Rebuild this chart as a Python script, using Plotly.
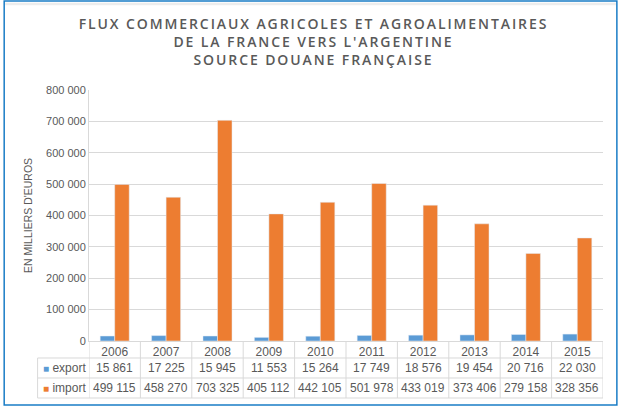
import plotly.graph_objects as go

years = [2006, 2007, 2008, 2009, 2010, 2011, 2012, 2013, 2014, 2015]
export = [15861, 17225, 15945, 11553, 15264, 17749, 18576, 19454, 20716, 22030]
imports = [499115, 458270, 703325, 405112, 442105, 501978, 433019, 373406, 279158, 328356]

BLUE = "#5B9BD5"
ORANGE = "#ED7D31"
GREY_TXT = "#595959"
GRID = "#D9D9D9"
FONT = "Liberation Sans"


def fmt(v):
    return f"{v:,}".replace(",", " ")


fig = go.Figure()
fig.add_trace(go.Bar(x=years, y=export, name="export", marker_color=BLUE))
fig.add_trace(go.Bar(x=years, y=imports, name="import", marker_color=ORANGE))

# data table under the plot (paper y below 0)
row_y = {"year_bot": -0.0677, "exp_bot": -0.1474, "imp_bot": -0.2271}
exp_y = -0.1076
imp_y = -0.187
shapes = []
line = dict(color=GRID, width=1)
for b in [y - 0.5 for y in years] + [years[-1] + 0.5]:
    shapes.append(dict(type="line", xref="x", yref="paper", x0=b, x1=b,
                       y0=0, y1=row_y["imp_bot"], line=line))
for yb in row_y.values():
    shapes.append(dict(type="line", xref="paper", yref="paper", x0=-0.1, x1=1,
                       y0=yb, y1=yb, line=line))
shapes.append(dict(type="line", xref="paper", yref="paper", x0=-0.1, x1=-0.1,
                   y0=row_y["year_bot"], y1=row_y["imp_bot"], line=line))
# outer frame
shapes.append(dict(type="rect", xref="paper", yref="paper", x0=-0.165, x1=1.027,
                   y0=-0.255, y1=1.355, line=dict(color="#1A7DC6", width=1.5)))
shapes.append(dict(type="line", xref="paper", yref="paper", x0=-0.163, x1=1.025,
                   y0=1.343, y1=1.343, line=dict(color="#EDEDED", width=2.5)))

annotations = []
tfont = dict(family=FONT, size=12, color=GREY_TXT)
for yr, e, i in zip(years, export, imports):
    annotations.append(dict(x=yr, y=exp_y, xref="x", yref="paper", text=fmt(e),
                            yanchor="middle", showarrow=False, font=tfont))
    annotations.append(dict(x=yr, y=imp_y, xref="x", yref="paper", text=fmt(i),
                            yanchor="middle", showarrow=False, font=tfont))
for label, color, yy in [("export", BLUE, exp_y), ("import", ORANGE, imp_y)]:
    annotations.append(dict(x=-0.094, y=yy, xref="paper", yref="paper",
                            xanchor="left", yanchor="middle",
                            text=f"<span style='color:{color};font-size:10px'>■</span> {label}",
                            showarrow=False, font=tfont))

title_lines = [
    "FLUX COMMERCIAUX AGRICOLES ET AGROALIMENTAIRES",
    "DE LA FRANCE VERS L'ARGENTINE",
    "SOURCE DOUANE FRANÇAISE",
]
title_text = "<br>".join(
    f"<span style='letter-spacing:1.9px'>{t}</span>" for t in title_lines
)

fig.update_layout(
    width=632,
    height=415,
    title=dict(
        text=title_text,
        x=0.496, xanchor="center", y=0.93, yanchor="top",
        font=dict(family="Open Sans", size=14, color=GREY_TXT, weight=600),
    ),
    barmode="group",
    bargap=0.435,
    bargroupgap=0,
    showlegend=False,
    separators=", ",
    plot_bgcolor="white",
    paper_bgcolor="white",
    margin=dict(l=89, r=29, t=90, b=74),
    shapes=shapes,
    annotations=annotations,
)
fig.update_xaxes(range=[2005.5, 2015.5], tickvals=years, ticks="",
                 showline=True, linecolor=GRID, showgrid=False,
                 tickfont=tfont)
fig.update_yaxes(range=[0, 800000], dtick=100000, tickformat=",d",
                 showgrid=True, gridcolor=GRID, showline=True, linecolor=GRID,
                 zeroline=False, ticks="", tickfont=dict(family=FONT, size=11, color=GREY_TXT),
                 title=dict(text="EN MILLIERS D'EUROS", standoff=11,
                            font=dict(family=FONT, size=10.5, color=GREY_TXT)))

fig.write_html("out.html", config={"displayModeBar": False},
               post_script="document.body.style.margin='0';")
